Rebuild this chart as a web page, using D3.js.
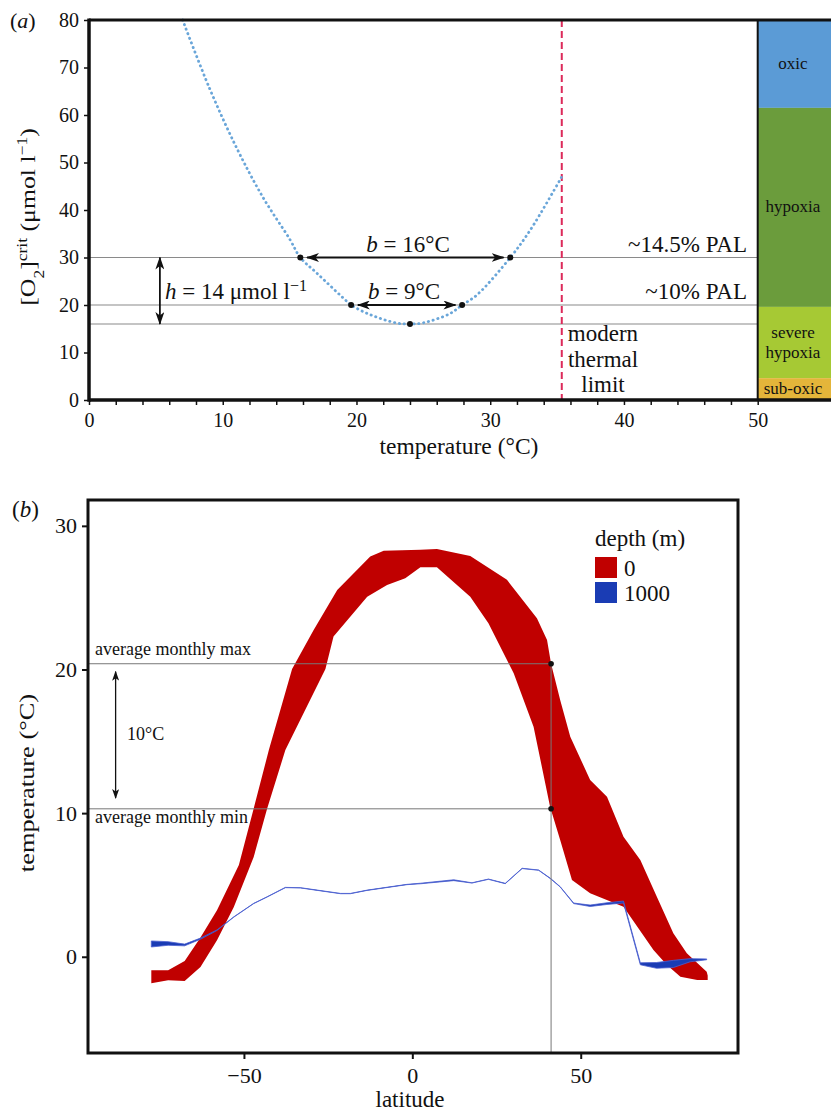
<!DOCTYPE html>
<html>
<head>
<meta charset="utf-8">
<script src="https://cdn.jsdelivr.net/npm/d3@7"></script>
<style>
body { margin: 0; background: #fff; }
svg text { font-family: 'Liberation Serif', 'Times New Roman', 'DejaVu Serif', serif; fill: #111; }
</style>
</head>
<body>
<div id="chart"></div>
<script>
// ---------- Panel (a) data ----------
const curveTemp = [7, 9, 11, 13, 15, 15.8, 17, 19, 19.6, 21, 23, 24, 25, 27, 27.9, 29, 31.5, 33, 35.35]
const curveO2 = [80, 65.7, 53.3, 42.7, 33.9, 30, 26.8, 21.5, 20, 18, 16.2, 16, 16.25, 18.2, 20, 22.1, 30, 35.8, 47]
const markTemp = [15.8, 31.5, 19.6, 27.9, 24]
const markO2 = [30, 30, 20, 20, 16]
const levelO2 = [30, 20, 16]
const levelLabels = ['~14.5% PAL', '~10% PAL', '']
const thermalLimit = 35.35
const zoneNames = [['oxic'], ['hypoxia'], ['severe', 'hypoxia'], ['sub-oxic']]
const zoneBounds = [80, 61.5, 19.6, 4.6, 0]
const ticksA_x = [0, 10, 20, 30, 40, 50]
const ticksA_y = [0, 10, 20, 30, 40, 50, 60, 70, 80]

// ---------- Panel (b) data ----------
const redMaxLat = [-77.5, -72.5, -67.6, -62.9, -58.0, -51.5, -47.1, -42.6, -35.7, -29.3, -22.3, -12.5, -8.5, 2.4, 7.3, 17.2, 28.1, 37.0, 40.0, 41.2, 43.9, 46.9, 52.8, 57.8, 62.7, 67.7, 72.6, 77.5, 81.5, 87.4, 87.7]
const redMaxTemp = [-0.94, -0.94, -0.29, 1.34, 3.24, 6.38, 10.33, 14.39, 20.03, 22.75, 25.54, 27.86, 28.26, 28.33, 28.38, 27.91, 26.24, 23.57, 22.05, 20.4, 17.88, 15.32, 12.31, 11.14, 8.36, 6.74, 4.18, 1.63, 0.24, -1.04, -1.3]
const redMinLat = [-77.5, -72.5, -67.6, -62.9, -58.0, -53.0, -47.1, -43.1, -37.7, -25.8, -23.4, -13.4, -7.5, -2.1, 2.4, 7.3, 17.2, 22.6, 30.1, 36.0, 40.9, 43.9, 47.4, 52.8, 62.7, 71.6, 75.6, 79.6, 84.6, 87.7]
const redMinTemp = [-1.85, -1.64, -1.69, -0.71, 1.15, 3.47, 6.95, 10.33, 14.39, 20.03, 22.29, 25.07, 25.89, 26.36, 27.12, 27.12, 25.07, 23.22, 19.73, 16.02, 10.45, 8.13, 5.34, 4.42, 3.48, 0.47, -0.57, -1.39, -1.62, -1.62]
const blueLat = [-77.5, -72.5, -67.6, -62.9, -58.0, -53.0, -47.1, -43.1, -37.7, -33.2, -28.2, -21.3, -18.4, -13.4, -1.6, 2.4, 12.3, 17.7, 22.6, 27.6, 32.6, 37.5, 41.0, 43.9, 47.9, 52.8, 57.8, 62.7, 67.7, 72.5, 77.5, 82.5, 87.4]
const blueMax = [1.10, 1.05, 0.88, 1.30, 1.87, 2.78, 3.72, 4.18, 4.83, 4.81, 4.64, 4.41, 4.41, 4.64, 5.04, 5.12, 5.36, 5.15, 5.41, 5.11, 6.16, 6.04, 5.46, 4.88, 3.74, 3.60, 3.76, 3.88, -0.42, -0.40, -0.25, -0.13, -0.15]
const blueMin = [0.68, 0.80, 0.76, 1.22, 1.83, 2.76, 3.70, 4.16, 4.81, 4.79, 4.62, 4.39, 4.39, 4.62, 5.02, 5.08, 5.30, 5.13, 5.39, 5.09, 6.14, 6.02, 5.44, 4.86, 3.70, 3.50, 3.64, 3.74, -0.56, -0.80, -0.75, -0.35, -0.21]
const monthlyMax = 20.4
const monthlyMin = 10.3
const markLat = 41.2
const depthLabels = ['0', '1000']
const ticksB_x = [-50, 0, 50]
const ticksB_y = [0, 10, 20, 30]

// Colours
const zoneColors = ['#5b9bd6', '#6b9c3c', '#a6c934', '#e4b53a']
const depthColors = ['#c00000', '#1a3cb4']

const svg = d3.select('#chart')
	.append('svg')
	.attr('width', 831)
	.attr('height', 1113)

// Arrow heads
const defs = svg.append('defs')
defs.append('marker')
	.attr('id', 'arrowBig')
	.attr('viewBox', '0 0 13 9')
	.attr('refX', 12).attr('refY', 4.5)
	.attr('markerWidth', 13).attr('markerHeight', 9)
	.attr('markerUnits', 'userSpaceOnUse')
	.attr('orient', 'auto-start-reverse')
	.append('path')
	.attr('d', 'M0,0 L13,4.5 L0,9 L3.5,4.5 Z')
	.attr('fill', '#111')
defs.append('marker')
	.attr('id', 'arrowSmall')
	.attr('viewBox', '0 0 10 7')
	.attr('refX', 9).attr('refY', 3.5)
	.attr('markerWidth', 10).attr('markerHeight', 7)
	.attr('markerUnits', 'userSpaceOnUse')
	.attr('orient', 'auto-start-reverse')
	.append('path')
	.attr('d', 'M0,0 L10,3.5 L0,7 L2.5,3.5 Z')
	.attr('fill', '#111')

// =================== Panel (a) ===================
const xA = d3.scaleLinear().domain([0, 50]).range([89, 757.7])
const yA = d3.scaleLinear().domain([0, 80]).range([400, 20])
const gA = svg.append('g')

// Oxygen zones bar
zoneNames.forEach((lines, i) => {
	gA.append('rect')
		.attr('x', xA(50))
		.attr('y', yA(zoneBounds[i]))
		.attr('width', 831 - xA(50))
		.attr('height', yA(zoneBounds[i + 1]) - yA(zoneBounds[i]))
		.attr('fill', zoneColors[i])
	let mid = (yA(zoneBounds[i]) + yA(zoneBounds[i + 1])) / 2
	lines.forEach((ln, j) => {
		gA.append('text')
			.attr('x', 793)
			.attr('y', mid + 5 + (j - (lines.length - 1) / 2) * 20)
			.attr('text-anchor', 'middle')
			.style('font-size', '17px')
			.text(ln)
	})
})

// Reference levels
levelO2.forEach((lv, i) => {
	gA.append('line')
		.attr('x1', xA(0)).attr('x2', xA(50))
		.attr('y1', yA(lv)).attr('y2', yA(lv))
		.attr('stroke', '#8a8a8a').attr('stroke-width', 1.2)
	if (levelLabels[i]) {
		gA.append('text')
			.attr('x', 747).attr('y', yA(lv) - 6)
			.attr('text-anchor', 'end')
			.style('font-size', '23px')
			.text(levelLabels[i])
	}
})

// Modern thermal limit
gA.append('line')
	.attr('x1', xA(thermalLimit)).attr('x2', xA(thermalLimit))
	.attr('y1', yA(80)).attr('y2', yA(0))
	.attr('stroke', '#dc2a5a').attr('stroke-width', 2)
	.attr('stroke-dasharray', '7 4')
;['modern', 'thermal', 'limit'].forEach((t, i) => {
	gA.append('text')
		.attr('x', 603).attr('y', 341 + i * 25.5)
		.attr('text-anchor', 'middle')
		.style('font-size', '23px')
		.text(t)
})

// Critical O2 curve
let lineA = d3.line()
	.x(d => xA(d[0]))
	.y(d => yA(d[1]))
	.curve(d3.curveCatmullRom)
gA.append('path')
	.attr('d', lineA(d3.zip(curveTemp, curveO2)))
	.attr('fill', 'none')
	.attr('stroke', '#6aa6d9')
	.attr('stroke-width', 2.8)
	.attr('stroke-linecap', 'round')
	.attr('stroke-dasharray', '0.3 4.6')

// b arrows
gA.append('line')
	.attr('x1', xA(16.3)).attr('x2', xA(31.0))
	.attr('y1', yA(30)).attr('y2', yA(30))
	.attr('stroke', '#111').attr('stroke-width', 1.8)
	.attr('marker-start', 'url(#arrowBig)').attr('marker-end', 'url(#arrowBig)')
gA.append('line')
	.attr('x1', xA(20.1)).attr('x2', xA(27.4))
	.attr('y1', yA(20)).attr('y2', yA(20))
	.attr('stroke', '#111').attr('stroke-width', 1.8)
	.attr('marker-start', 'url(#arrowBig)').attr('marker-end', 'url(#arrowBig)')
// h arrow
gA.append('line')
	.attr('x1', xA(5.3)).attr('x2', xA(5.3))
	.attr('y1', yA(30)).attr('y2', yA(16))
	.attr('stroke', '#111').attr('stroke-width', 1.8)
	.attr('marker-start', 'url(#arrowBig)').attr('marker-end', 'url(#arrowBig)')

let b16 = gA.append('text').attr('x', 408).attr('y', 252).attr('text-anchor', 'middle').style('font-size', '23px')
b16.append('tspan').style('font-style', 'italic').text('b')
b16.append('tspan').text(' = 16°C')
let b9 = gA.append('text').attr('x', 404).attr('y', 299).attr('text-anchor', 'middle').style('font-size', '23px')
b9.append('tspan').style('font-style', 'italic').text('b')
b9.append('tspan').text(' = 9°C')
let hT = gA.append('text').attr('x', 165).attr('y', 299).style('font-size', '23px')
hT.append('tspan').style('font-style', 'italic').text('h')
hT.append('tspan').text(' = 14 μmol l')
hT.append('tspan').attr('baseline-shift', 'super').style('font-size', '16px').text('−1')

// Marked points
gA.selectAll('circle.mark')
	.data(d3.zip(markTemp, markO2))
	.enter()
	.append('circle')
	.attr('class', 'mark')
	.attr('cx', d => xA(d[0]))
	.attr('cy', d => yA(d[1]))
	.attr('r', 3)
	.attr('fill', '#111')

// Axes
let axA_x = gA.append('g')
	.attr('transform', 'translate(0,' + yA(0) + ')')
	.call(d3.axisBottom(xA).tickValues(d3.range(0, 51, 2)).tickSize(5).tickFormat(d => ticksA_x.includes(d) ? d : ''))
let axA_y = gA.append('g')
	.attr('transform', 'translate(' + xA(0) + ',0)')
	.call(d3.axisLeft(yA).tickValues(ticksA_y).tickSize(5))
;[axA_x, axA_y].forEach(ax => {
	ax.select('.domain').remove()
	ax.selectAll('line').attr('stroke', '#111').attr('stroke-width', 1.5)
	ax.selectAll('text').style('font-size', '20px').style('font-family', "'Liberation Serif', serif").attr('fill', '#111')
})
axA_x.selectAll('text').attr('dy', '0.71em').attr('y', 13)
axA_y.selectAll('text').attr('x', -10)

// Frame lines
gA.append('line').attr('x1', xA(0)).attr('x2', 831).attr('y1', yA(0)).attr('y2', yA(0)).attr('stroke', '#111').attr('stroke-width', 3.5)
gA.append('line').attr('x1', xA(0)).attr('x2', 831).attr('y1', yA(80)).attr('y2', yA(80)).attr('stroke', '#111').attr('stroke-width', 3)
gA.append('line').attr('x1', xA(0)).attr('x2', xA(0)).attr('y1', yA(80) - 1.5).attr('y2', yA(0) + 1.7).attr('stroke', '#111').attr('stroke-width', 3.5)
gA.append('line').attr('x1', xA(50)).attr('x2', xA(50)).attr('y1', yA(80)).attr('y2', yA(0)).attr('stroke', '#111').attr('stroke-width', 2)

// Labels
let tagA = gA.append('text').attr('x', 10).attr('y', 28).style('font-size', '22px')
tagA.append('tspan').text('(')
tagA.append('tspan').style('font-style', 'italic').text('a')
tagA.append('tspan').text(')')
gA.append('text')
	.attr('x', 459).attr('y', 454)
	.attr('text-anchor', 'middle')
	.style('font-size', '23.5px')
	.text('temperature (°C)')
let yLabA = gA.append('text')
	.attr('transform', 'translate(35,217) rotate(-90) scale(1.17,1)')
	.attr('text-anchor', 'middle')
	.style('font-size', '22px')
yLabA.append('tspan').text('[O')
yLabA.append('tspan').attr('baseline-shift', 'sub').style('font-size', '15px').text('2')
yLabA.append('tspan').text(']')
yLabA.append('tspan').attr('baseline-shift', 'super').style('font-size', '15px').text('crit')
yLabA.append('tspan').text(' (μmol l')
yLabA.append('tspan').attr('baseline-shift', 'super').style('font-size', '15px').text('−1')
yLabA.append('tspan').text(')')

// =================== Panel (b) ===================
const xB = d3.scaleLinear().domain([-96.3, 96.7]).range([88, 738])
const yB = d3.scaleLinear().domain([-6.7, 31.8]).range([1053, 500])
const gB = svg.append('g')

let lineB = d3.line()
	.x(d => xB(d[0]))
	.y(d => yB(d[1]))

// Surface (0 m) band
let redPoly = d3.zip(redMaxLat, redMaxTemp).concat(d3.zip(redMinLat, redMinTemp).reverse())
gB.append('path')
	.attr('d', lineB(redPoly) + 'Z')
	.attr('fill', depthColors[0])

// 1000 m band
let bluePoly = d3.zip(blueLat, blueMax).concat(d3.zip(blueLat, blueMin).reverse())
gB.append('path')
	.attr('d', lineB(bluePoly) + 'Z')
	.attr('fill', depthColors[1])
	.attr('stroke', '#4b5fd0')
	.attr('stroke-width', 0.8)
	.attr('stroke-linejoin', 'round')

// Monthly max / min guides
gB.append('line')
	.attr('x1', xB(-96.3)).attr('x2', xB(markLat))
	.attr('y1', yB(monthlyMax)).attr('y2', yB(monthlyMax))
	.attr('stroke', '#777').attr('stroke-width', 1)
gB.append('line')
	.attr('x1', xB(-96.3)).attr('x2', xB(markLat))
	.attr('y1', yB(monthlyMin)).attr('y2', yB(monthlyMin))
	.attr('stroke', '#777').attr('stroke-width', 1)
gB.append('line')
	.attr('x1', xB(markLat)).attr('x2', xB(markLat))
	.attr('y1', yB(monthlyMax)).attr('y2', yB(-6.7))
	.attr('stroke', '#777').attr('stroke-width', 1)
gB.selectAll('circle.mark')
	.data([monthlyMax, monthlyMin])
	.enter()
	.append('circle')
	.attr('class', 'mark')
	.attr('cx', xB(markLat))
	.attr('cy', d => yB(d))
	.attr('r', 2.8)
	.attr('fill', '#111')
gB.append('text').attr('x', 95).attr('y', 655).style('font-size', '18px').text('average monthly max')
gB.append('text').attr('x', 95).attr('y', 823).style('font-size', '18px').text('average monthly min')

// 10°C arrow
gB.append('line')
	.attr('x1', xB(-88.1)).attr('x2', xB(-88.1))
	.attr('y1', yB(19.85)).attr('y2', yB(11.05))
	.attr('stroke', '#111').attr('stroke-width', 1.3)
	.attr('marker-start', 'url(#arrowSmall)').attr('marker-end', 'url(#arrowSmall)')
gB.append('text').attr('x', 127).attr('y', 740).style('font-size', '18px').text('10°C')

// Legend
gB.append('text').attr('x', 595).attr('y', 546).style('font-size', '23px').text('depth (m)')
depthLabels.forEach((lab, i) => {
	gB.append('rect')
		.attr('x', 595).attr('y', 557 + i * 25)
		.attr('width', 22).attr('height', 21)
		.attr('fill', depthColors[i])
	gB.append('text')
		.attr('x', 624).attr('y', 576 + i * 25)
		.style('font-size', '23px')
		.text(lab)
})

// Axes
let axB_x = gB.append('g')
	.attr('transform', 'translate(0,' + yB(-6.7) + ')')
	.call(d3.axisBottom(xB).tickValues(ticksB_x).tickSize(6).tickFormat(d => d < 0 ? '−' + Math.abs(d) : d))
let axB_y = gB.append('g')
	.attr('transform', 'translate(' + xB(-96.3) + ',0)')
	.call(d3.axisLeft(yB).tickValues(ticksB_y).tickSize(6))
;[axB_x, axB_y].forEach(ax => {
	ax.select('.domain').remove()
	ax.selectAll('line').attr('stroke', '#111').attr('stroke-width', 2)
	ax.selectAll('text').style('font-size', '22px').style('font-family', "'Liberation Serif', serif").attr('fill', '#111')
})
axB_x.selectAll('text').attr('dy', '0.71em').attr('y', 14)
axB_y.selectAll('text').attr('x', -11)

// Frame
gB.append('rect')
	.attr('x', xB(-96.3)).attr('y', yB(31.8))
	.attr('width', xB(96.7) - xB(-96.3))
	.attr('height', yB(-6.7) - yB(31.8))
	.attr('fill', 'none')
	.attr('stroke', '#111')
	.attr('stroke-width', 3)

// Labels
let tagB = gB.append('text').attr('x', 12).attr('y', 517).style('font-size', '23px')
tagB.append('tspan').text('(')
tagB.append('tspan').style('font-style', 'italic').text('b')
tagB.append('tspan').text(')')
gB.append('text')
	.attr('x', 410).attr('y', 1107)
	.attr('text-anchor', 'middle')
	.style('font-size', '23px')
	.text('latitude')
gB.append('text')
	.attr('transform', 'translate(34,783) rotate(-90) scale(1.2,1)')
	.attr('text-anchor', 'middle')
	.style('font-size', '22px')
	.text('temperature (°C)')
</script>
</body>
</html>
